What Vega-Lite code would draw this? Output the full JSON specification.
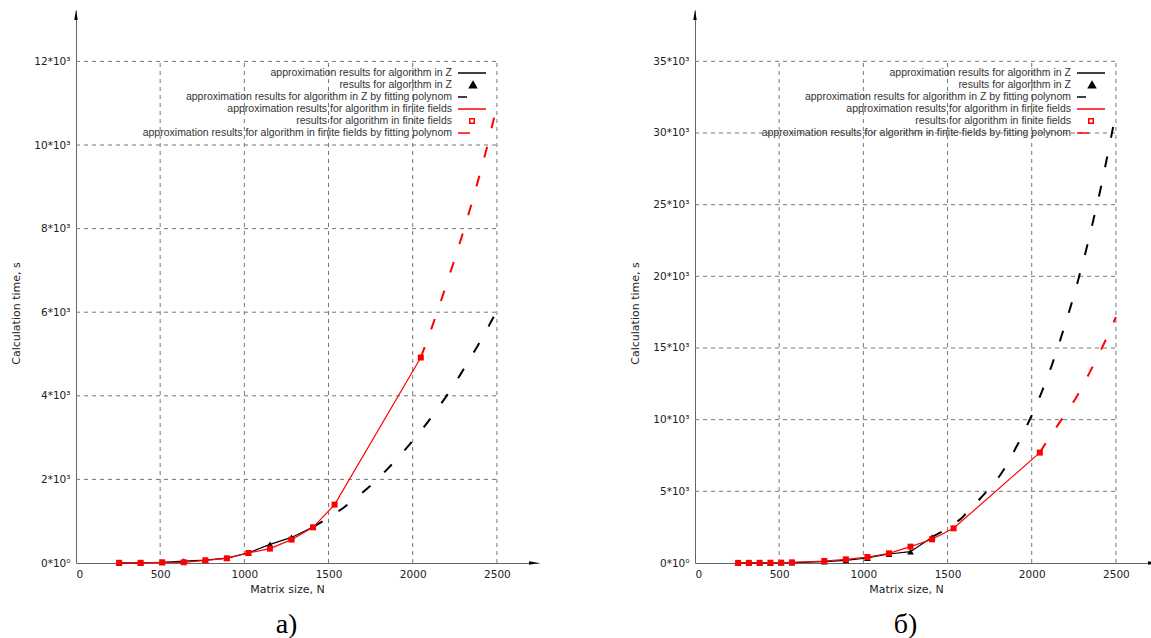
{
  "$schema": "https://vega.github.io/schema/vega-lite/v6.json",
  "padding": {"left": 10, "top": 10, "right": 0, "bottom": 0},
  "spacing": 90,
  "config": {
    "view": {"stroke": null},
    "font": "DejaVu Sans",
    "axis": {"labelFont": "DejaVu Sans", "labelFontSize": 10.5, "labelColor": "#222", "titleFont": "DejaVu Sans", "titleFontSize": 11, "titleFontWeight": "normal", "titleColor": "#222", "domainColor": "#666", "domainWidth": 1, "ticks": false, "grid": false},
    "legend": {"orient": "none", "legendX": 381, "legendY": 57, "title": null, "labelLimit": 500, "labelFont": "Liberation Sans", "labelFontSize": 10.5, "labelColor": "#333", "labelAlign": "right", "labelOffset": -17, "symbolSize": 100, "symbolStrokeWidth": 1.5, "symbolFillColor": "white", "symbolOpacity": 1, "rowPadding": -1, "padding": 0}
  },
  "resolve": {"scale": {"x": "independent", "y": "independent", "color": "independent", "shape": "independent"}, "legend": {"color": "independent", "shape": "independent"}},
  "hconcat": [
    {
      "width": 463, "height": 553,
      "title": {"text": "а)", "orient": "bottom", "font": "Liberation Serif", "fontSize": 28, "fontWeight": "normal", "color": "black", "dx": -21, "offset": 16},
      "data": {"values": [
        {"s": "Z", "N": 256, "t": 4}, {"s": "Z", "N": 384, "t": 6}, {"s": "Z", "N": 512, "t": 18}, {"s": "Z", "N": 640, "t": 45}, {"s": "Z", "N": 768, "t": 68}, {"s": "Z", "N": 896, "t": 116}, {"s": "Z", "N": 1024, "t": 245}, {"s": "Z", "N": 1152, "t": 445}, {"s": "Z", "N": 1280, "t": 612}, {"s": "Z", "N": 1408, "t": 860},
        {"s": "FF", "N": 256, "t": 5}, {"s": "FF", "N": 384, "t": 5}, {"s": "FF", "N": 512, "t": 17}, {"s": "FF", "N": 640, "t": 17}, {"s": "FF", "N": 768, "t": 65}, {"s": "FF", "N": 896, "t": 112}, {"s": "FF", "N": 1024, "t": 240}, {"s": "FF", "N": 1152, "t": 344}, {"s": "FF", "N": 1280, "t": 559}, {"s": "FF", "N": 1408, "t": 854}, {"s": "FF", "N": 1536, "t": 1397}, {"s": "FF", "N": 2048, "t": 4916},
        {"s": "Zfit", "N": 1408, "t": 860}, {"s": "Zfit", "N": 1500, "t": 1080}, {"s": "Zfit", "N": 1585, "t": 1310}, {"s": "Zfit", "N": 1650, "t": 1510}, {"s": "Zfit", "N": 1730, "t": 1780}, {"s": "Zfit", "N": 1800, "t": 2040}, {"s": "Zfit", "N": 1855, "t": 2270}, {"s": "Zfit", "N": 1920, "t": 2550}, {"s": "Zfit", "N": 1977, "t": 2815}, {"s": "Zfit", "N": 2040, "t": 3120}, {"s": "Zfit", "N": 2089, "t": 3370}, {"s": "Zfit", "N": 2140, "t": 3650}, {"s": "Zfit", "N": 2192, "t": 3945}, {"s": "Zfit", "N": 2250, "t": 4295}, {"s": "Zfit", "N": 2291, "t": 4560}, {"s": "Zfit", "N": 2340, "t": 4890}, {"s": "Zfit", "N": 2382, "t": 5170}, {"s": "Zfit", "N": 2430, "t": 5510}, {"s": "Zfit", "N": 2469, "t": 5800}, {"s": "Zfit", "N": 2500, "t": 6030},
        {"s": "FFfit", "N": 2048, "t": 4916}, {"s": "FFfit", "N": 2100, "t": 5480}, {"s": "FFfit", "N": 2150, "t": 6060}, {"s": "FFfit", "N": 2200, "t": 6660}, {"s": "FFfit", "N": 2250, "t": 7280}, {"s": "FFfit", "N": 2300, "t": 7920}, {"s": "FFfit", "N": 2350, "t": 8600}, {"s": "FFfit", "N": 2400, "t": 9320}, {"s": "FFfit", "N": 2450, "t": 10080}, {"s": "FFfit", "N": 2500, "t": 10950}
      ]},
      "layer": [
        {
          "data": {"values": [{"g": 2000}, {"g": 4000}, {"g": 6000}, {"g": 8000}, {"g": 10000}, {"g": 12000}]},
          "mark": {"type": "rule", "color": "#777", "strokeDash": [4, 4], "strokeWidth": 1},
          "encoding": {
            "y": {"field": "g", "type": "quantitative", "title": "Calculation time, s", "scale": {"domain": [0, 13230], "nice": false, "zero": true},
              "axis": {"values": [0, 2000, 4000, 6000, 8000, 10000, 12000], "labelExpr": "datum.value == 0 ? '0*10⁰' : (datum.value / 1000) + '*10³'", "labelPadding": 6, "titlePadding": 12, "titleY": 303}},
            "x": {"datum": 0, "type": "quantitative", "title": "Matrix size, N", "scale": {"domain": [0, 2750], "nice": false},
              "axis": {"values": [0, 500, 1000, 1500, 2000, 2500], "format": "d", "labelPadding": 6, "titlePadding": 4, "titleX": 211}},
            "x2": {"datum": 2500}
          }
        },
        {
          "data": {"values": [{"g": 500}, {"g": 1000}, {"g": 1500}, {"g": 2000}, {"g": 2500}]},
          "mark": {"type": "rule", "color": "#777", "strokeDash": [4, 4], "strokeWidth": 1},
          "encoding": {
            "x": {"field": "g", "type": "quantitative", "title": "Matrix size, N"},
            "y": {"datum": 0, "type": "quantitative", "title": "Calculation time, s"},
            "y2": {"datum": 12000}
          }
        },
        {
          "transform": [{"filter": "datum.s == 'Zfit'"}],
          "mark": {"type": "line", "color": "black", "strokeWidth": 2, "strokeDash": [11, 19]},
          "encoding": {"x": {"field": "N", "type": "quantitative", "title": "Matrix size, N"}, "y": {"field": "t", "type": "quantitative", "title": "Calculation time, s"}}
        },
        {
          "transform": [{"filter": "datum.s == 'Z'"}],
          "mark": {"type": "line", "color": "black", "strokeWidth": 1.2},
          "encoding": {"x": {"field": "N", "type": "quantitative", "title": "Matrix size, N"}, "y": {"field": "t", "type": "quantitative", "title": "Calculation time, s"}}
        },
        {
          "transform": [{"filter": "datum.s == 'Z'"}],
          "mark": {"type": "point", "shape": "triangle-up", "filled": true, "size": 45, "opacity": 1, "color": "black"},
          "encoding": {"x": {"field": "N", "type": "quantitative", "title": "Matrix size, N"}, "y": {"field": "t", "type": "quantitative", "title": "Calculation time, s"}}
        },
        {
          "transform": [{"filter": "datum.s == 'FFfit'"}],
          "mark": {"type": "line", "color": "red", "strokeWidth": 2, "strokeDash": [11, 19]},
          "encoding": {"x": {"field": "N", "type": "quantitative", "title": "Matrix size, N"}, "y": {"field": "t", "type": "quantitative", "title": "Calculation time, s"}}
        },
        {
          "transform": [{"filter": "datum.s == 'FF'"}],
          "mark": {"type": "line", "color": "red", "strokeWidth": 1.2},
          "encoding": {"x": {"field": "N", "type": "quantitative", "title": "Matrix size, N"}, "y": {"field": "t", "type": "quantitative", "title": "Calculation time, s"}}
        },
        {
          "transform": [{"filter": "datum.s == 'FF'"}],
          "mark": {"type": "point", "shape": "square", "filled": true, "size": 36, "opacity": 1, "color": "red"},
          "encoding": {"x": {"field": "N", "type": "quantitative", "title": "Matrix size, N"}, "y": {"field": "t", "type": "quantitative", "title": "Calculation time, s"}}
        },
        {
          "transform": [{"filter": "datum.s == 'Z'"}],
          "mark": {"type": "point", "filled": false, "opacity": 0},
          "encoding": {"x": {"field": "N", "type": "quantitative", "title": "Matrix size, N"}, "y": {"field": "t", "type": "quantitative", "title": "Calculation time, s"},
            "color": {"field": "s", "type": "nominal", "scale": {"domain": ["L1", "Z", "L2", "L3", "FF", "L4"], "range": ["black", "black", "black", "red", "red", "red"]},
              "legend": {"labelExpr": "datum.value == 'L1' ? 'approximation results for algorithm in Z' : datum.value == 'Z' ? 'results for algorithm in Z' : datum.value == 'L2' ? 'approximation results for algorithm in Z by fitting polynom' : datum.value == 'L3' ? 'approximation results for algorithm in finite fields' : datum.value == 'FF' ? 'results for algorithm in finite fields' : 'approximation results for algorithm in finite fields by fitting polynom'"}},
            "shape": {"field": "s", "type": "nominal", "scale": {"domain": ["L1", "Z", "L2", "L3", "FF", "L4"], "range": ["M-1,0H4.6", "M2,-0.65L2.7,0.55L1.3,0.55ZM2,-0.3L2.35,0.3L1.65,0.3Z", "M-1,0H0.8", "M-1,0H4.6", "M1.35,-0.45H2.25V0.45H1.35Z", "M-1,0H1.4"]},
              "legend": {"labelExpr": "datum.value == 'L1' ? 'approximation results for algorithm in Z' : datum.value == 'Z' ? 'results for algorithm in Z' : datum.value == 'L2' ? 'approximation results for algorithm in Z by fitting polynom' : datum.value == 'L3' ? 'approximation results for algorithm in finite fields' : datum.value == 'FF' ? 'results for algorithm in finite fields' : 'approximation results for algorithm in finite fields by fitting polynom'"}}
          }
        },
        {
          "data": {"values": [{}]},
          "mark": {"type": "point", "shape": "M-1,-0.35L1,0L-1,0.35Z", "filled": true, "size": 100, "opacity": 1, "color": "black", "xOffset": -5},
          "encoding": {"x": {"datum": 2750, "type": "quantitative", "title": "Matrix size, N"}, "y": {"datum": 0, "type": "quantitative", "title": "Calculation time, s"}}
        },
        {
          "data": {"values": [{}]},
          "mark": {"type": "point", "shape": "M-0.35,1L0,-1L0.35,1Z", "filled": true, "size": 100, "opacity": 1, "color": "black", "yOffset": 5},
          "encoding": {"x": {"datum": 0, "type": "quantitative", "title": "Matrix size, N"}, "y": {"datum": 13230, "type": "quantitative", "title": "Calculation time, s"}}
        }
      ]
    },
    {
      "width": 463, "height": 553,
      "title": {"text": "б)", "orient": "bottom", "font": "Liberation Serif", "fontSize": 28, "fontWeight": "normal", "color": "black", "dx": -21, "offset": 16},
      "data": {"values": [
        {"s": "Z", "N": 256, "t": 5}, {"s": "Z", "N": 320, "t": 8}, {"s": "Z", "N": 384, "t": 10}, {"s": "Z", "N": 448, "t": 15}, {"s": "Z", "N": 512, "t": 20}, {"s": "Z", "N": 576, "t": 30}, {"s": "Z", "N": 768, "t": 93}, {"s": "Z", "N": 896, "t": 186}, {"s": "Z", "N": 1024, "t": 349}, {"s": "Z", "N": 1152, "t": 628}, {"s": "Z", "N": 1280, "t": 791}, {"s": "Z", "N": 1408, "t": 1800},
        {"s": "FF", "N": 256, "t": 10}, {"s": "FF", "N": 320, "t": 10}, {"s": "FF", "N": 384, "t": 15}, {"s": "FF", "N": 448, "t": 20}, {"s": "FF", "N": 512, "t": 25}, {"s": "FF", "N": 576, "t": 47}, {"s": "FF", "N": 768, "t": 140}, {"s": "FF", "N": 896, "t": 256}, {"s": "FF", "N": 1024, "t": 419}, {"s": "FF", "N": 1152, "t": 675}, {"s": "FF", "N": 1280, "t": 1140}, {"s": "FF", "N": 1408, "t": 1652}, {"s": "FF", "N": 1536, "t": 2420}, {"s": "FF", "N": 2048, "t": 7702},
        {"s": "Zfit", "N": 1408, "t": 1800}, {"s": "Zfit", "N": 1450, "t": 2080}, {"s": "Zfit", "N": 1500, "t": 2400}, {"s": "Zfit", "N": 1577, "t": 3060}, {"s": "Zfit", "N": 1640, "t": 3800}, {"s": "Zfit", "N": 1704, "t": 4630}, {"s": "Zfit", "N": 1760, "t": 5320}, {"s": "Zfit", "N": 1812, "t": 6120}, {"s": "Zfit", "N": 1860, "t": 6980}, {"s": "Zfit", "N": 1904, "t": 8000}, {"s": "Zfit", "N": 1945, "t": 8900}, {"s": "Zfit", "N": 1983, "t": 9870}, {"s": "Zfit", "N": 2020, "t": 10800}, {"s": "Zfit", "N": 2055, "t": 11800}, {"s": "Zfit", "N": 2090, "t": 12850}, {"s": "Zfit", "N": 2118, "t": 13750}, {"s": "Zfit", "N": 2150, "t": 14850}, {"s": "Zfit", "N": 2174, "t": 15730}, {"s": "Zfit", "N": 2200, "t": 16700}, {"s": "Zfit", "N": 2227, "t": 17730}, {"s": "Zfit", "N": 2250, "t": 18650}, {"s": "Zfit", "N": 2276, "t": 19750}, {"s": "Zfit", "N": 2300, "t": 20800}, {"s": "Zfit", "N": 2322, "t": 21780}, {"s": "Zfit", "N": 2345, "t": 22880}, {"s": "Zfit", "N": 2364, "t": 23830}, {"s": "Zfit", "N": 2385, "t": 24880}, {"s": "Zfit", "N": 2405, "t": 25880}, {"s": "Zfit", "N": 2425, "t": 26980}, {"s": "Zfit", "N": 2441, "t": 27920}, {"s": "Zfit", "N": 2460, "t": 29020}, {"s": "Zfit", "N": 2476, "t": 29970}, {"s": "Zfit", "N": 2500, "t": 31400},
        {"s": "FFfit", "N": 2048, "t": 7702}, {"s": "FFfit", "N": 2083, "t": 8354}, {"s": "FFfit", "N": 2120, "t": 9000}, {"s": "FFfit", "N": 2159, "t": 9692}, {"s": "FFfit", "N": 2200, "t": 10420}, {"s": "FFfit", "N": 2261, "t": 11475}, {"s": "FFfit", "N": 2300, "t": 12320}, {"s": "FFfit", "N": 2346, "t": 13333}, {"s": "FFfit", "N": 2390, "t": 14350}, {"s": "FFfit", "N": 2425, "t": 15196}, {"s": "FFfit", "N": 2460, "t": 16080}, {"s": "FFfit", "N": 2500, "t": 17150}
      ]},
      "layer": [
        {
          "data": {"values": [{"g": 5000}, {"g": 10000}, {"g": 15000}, {"g": 20000}, {"g": 25000}, {"g": 30000}, {"g": 35000}]},
          "mark": {"type": "rule", "color": "#777", "strokeDash": [4, 4], "strokeWidth": 1},
          "encoding": {
            "y": {"field": "g", "type": "quantitative", "title": "Calculation time, s", "scale": {"domain": [0, 38580], "nice": false, "zero": true},
              "axis": {"values": [0, 5000, 10000, 15000, 20000, 25000, 30000, 35000], "labelExpr": "datum.value == 0 ? '0*10⁰' : (datum.value / 1000) + '*10³'", "labelPadding": 6, "titlePadding": 12, "titleY": 303}},
            "x": {"datum": 0, "type": "quantitative", "title": "Matrix size, N", "scale": {"domain": [0, 2750], "nice": false},
              "axis": {"values": [0, 500, 1000, 1500, 2000, 2500], "format": "d", "labelPadding": 6, "titlePadding": 4, "titleX": 211}},
            "x2": {"datum": 2500}
          }
        },
        {
          "data": {"values": [{"g": 500}, {"g": 1000}, {"g": 1500}, {"g": 2000}, {"g": 2500}]},
          "mark": {"type": "rule", "color": "#777", "strokeDash": [4, 4], "strokeWidth": 1},
          "encoding": {
            "x": {"field": "g", "type": "quantitative", "title": "Matrix size, N"},
            "y": {"datum": 0, "type": "quantitative", "title": "Calculation time, s"},
            "y2": {"datum": 35000}
          }
        },
        {
          "transform": [{"filter": "datum.s == 'Zfit'"}],
          "mark": {"type": "line", "color": "black", "strokeWidth": 2, "strokeDash": [11, 19]},
          "encoding": {"x": {"field": "N", "type": "quantitative", "title": "Matrix size, N"}, "y": {"field": "t", "type": "quantitative", "title": "Calculation time, s"}}
        },
        {
          "transform": [{"filter": "datum.s == 'Z'"}],
          "mark": {"type": "line", "color": "black", "strokeWidth": 1.2},
          "encoding": {"x": {"field": "N", "type": "quantitative", "title": "Matrix size, N"}, "y": {"field": "t", "type": "quantitative", "title": "Calculation time, s"}}
        },
        {
          "transform": [{"filter": "datum.s == 'Z'"}],
          "mark": {"type": "point", "shape": "triangle-up", "filled": true, "size": 45, "opacity": 1, "color": "black"},
          "encoding": {"x": {"field": "N", "type": "quantitative", "title": "Matrix size, N"}, "y": {"field": "t", "type": "quantitative", "title": "Calculation time, s"}}
        },
        {
          "transform": [{"filter": "datum.s == 'FFfit'"}],
          "mark": {"type": "line", "color": "red", "strokeWidth": 2, "strokeDash": [11, 19]},
          "encoding": {"x": {"field": "N", "type": "quantitative", "title": "Matrix size, N"}, "y": {"field": "t", "type": "quantitative", "title": "Calculation time, s"}}
        },
        {
          "transform": [{"filter": "datum.s == 'FF'"}],
          "mark": {"type": "line", "color": "red", "strokeWidth": 1.2},
          "encoding": {"x": {"field": "N", "type": "quantitative", "title": "Matrix size, N"}, "y": {"field": "t", "type": "quantitative", "title": "Calculation time, s"}}
        },
        {
          "transform": [{"filter": "datum.s == 'FF'"}],
          "mark": {"type": "point", "shape": "square", "filled": true, "size": 36, "opacity": 1, "color": "red"},
          "encoding": {"x": {"field": "N", "type": "quantitative", "title": "Matrix size, N"}, "y": {"field": "t", "type": "quantitative", "title": "Calculation time, s"}}
        },
        {
          "transform": [{"filter": "datum.s == 'Z'"}],
          "mark": {"type": "point", "filled": false, "opacity": 0},
          "encoding": {"x": {"field": "N", "type": "quantitative", "title": "Matrix size, N"}, "y": {"field": "t", "type": "quantitative", "title": "Calculation time, s"},
            "color": {"field": "s", "type": "nominal", "scale": {"domain": ["L1", "Z", "L2", "L3", "FF", "L4"], "range": ["black", "black", "black", "red", "red", "red"]},
              "legend": {"labelExpr": "datum.value == 'L1' ? 'approximation results for algorithm in Z' : datum.value == 'Z' ? 'results for algorithm in Z' : datum.value == 'L2' ? 'approximation results for algorithm in Z by fitting polynom' : datum.value == 'L3' ? 'approximation results for algorithm in finite fields' : datum.value == 'FF' ? 'results for algorithm in finite fields' : 'approximation results for algorithm in finite fields by fitting polynom'"}},
            "shape": {"field": "s", "type": "nominal", "scale": {"domain": ["L1", "Z", "L2", "L3", "FF", "L4"], "range": ["M-1,0H4.6", "M2,-0.65L2.7,0.55L1.3,0.55ZM2,-0.3L2.35,0.3L1.65,0.3Z", "M-1,0H0.8", "M-1,0H4.6", "M1.35,-0.45H2.25V0.45H1.35Z", "M-1,0H1.4"]},
              "legend": {"labelExpr": "datum.value == 'L1' ? 'approximation results for algorithm in Z' : datum.value == 'Z' ? 'results for algorithm in Z' : datum.value == 'L2' ? 'approximation results for algorithm in Z by fitting polynom' : datum.value == 'L3' ? 'approximation results for algorithm in finite fields' : datum.value == 'FF' ? 'results for algorithm in finite fields' : 'approximation results for algorithm in finite fields by fitting polynom'"}}
          }
        },
        {
          "data": {"values": [{}]},
          "mark": {"type": "point", "shape": "M-1,-0.35L1,0L-1,0.35Z", "filled": true, "size": 100, "opacity": 1, "color": "black", "xOffset": -5},
          "encoding": {"x": {"datum": 2750, "type": "quantitative", "title": "Matrix size, N"}, "y": {"datum": 0, "type": "quantitative", "title": "Calculation time, s"}}
        },
        {
          "data": {"values": [{}]},
          "mark": {"type": "point", "shape": "M-0.35,1L0,-1L0.35,1Z", "filled": true, "size": 100, "opacity": 1, "color": "black", "yOffset": 5},
          "encoding": {"x": {"datum": 0, "type": "quantitative", "title": "Matrix size, N"}, "y": {"datum": 38580, "type": "quantitative", "title": "Calculation time, s"}}
        }
      ]
    }
  ]
}
